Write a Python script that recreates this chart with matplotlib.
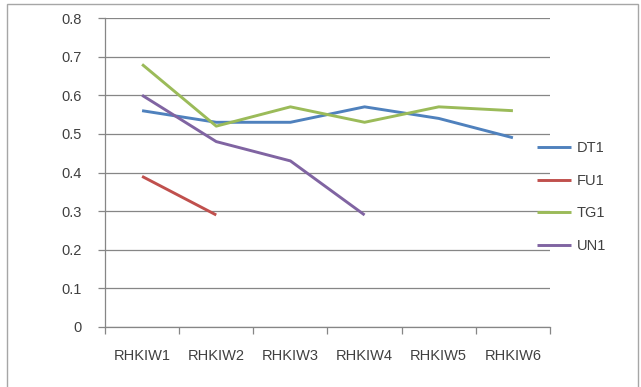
import matplotlib
matplotlib.use("Agg")
import matplotlib.pyplot as plt
from matplotlib.patches import Rectangle
import numpy as np

categories = ["RHKIW1", "RHKIW2", "RHKIW3", "RHKIW4", "RHKIW5", "RHKIW6"]
dt1 = [0.56, 0.53, 0.53, 0.57, 0.54, 0.49]
fu1 = [0.39, 0.29]
tg1 = [0.68, 0.52, 0.57, 0.53, 0.57, 0.56]
un1 = [0.60, 0.48, 0.43, 0.29]
y_ticks = [0, 0.1, 0.2, 0.3, 0.4, 0.5, 0.6, 0.7, 0.8]

series = [
    ("DT1", dt1, "#4F81BD"),
    ("FU1", fu1, "#C0504D"),
    ("TG1", tg1, "#9BBB59"),
    ("UN1", un1, "#8064A2"),
]

plt.rcParams["font.family"] = ["Liberation Sans", "DejaVu Sans"]
FS = 10.5
TXT = "#404040"

W, H = 641, 387
fig = plt.figure(figsize=(W / 100, H / 100), dpi=100)
fig.patch.set_facecolor("white")

# outer chart frame
fig.patches.append(Rectangle((7 / W, -0.02), 631 / W, 1.02 - 4 / H,
                             transform=fig.transFigure, fill=False,
                             edgecolor="#A6A6A6", linewidth=1.0))

ax = fig.add_axes([105 / W, (H - 327) / H, 445 / W, 309 / H])
x = np.arange(len(categories))

handles = []
for name, vals, color in series:
    h, = ax.plot(x[:len(vals)], vals, color=color, linewidth=2.1,
                 solid_capstyle="butt", label=name)
    handles.append(h)

ax.set_xlim(-0.5, len(categories) - 0.5)
ax.set_ylim(0, 0.8)
ax.set_yticks(y_ticks)
ax.set_yticklabels([f"{v:g}" for v in y_ticks])
ax.yaxis.grid(True, color="#868686", linewidth=0.9)
ax.set_axisbelow(True)

ax.set_xticks(x)
ax.set_xticklabels(categories)
ax.set_xticks(np.arange(-0.5, len(categories)), minor=True)
ax.tick_params(axis="x", which="major", length=0, pad=16,
               labelsize=FS, labelcolor=TXT)
ax.tick_params(axis="x", which="minor", length=5, color="#868686",
               direction="out", width=0.9)
ax.tick_params(axis="y", length=5, color="#868686", width=0.9,
               pad=12, labelsize=FS, labelcolor=TXT)

for side in ["top", "right"]:
    ax.spines[side].set_visible(False)
for side in ["left", "bottom"]:
    ax.spines[side].set_color("#868686")
    ax.spines[side].set_linewidth(0.9)

fig.legend(handles=handles, loc="upper left",
           bbox_to_anchor=(537 / W, 1 - 141 / H),
           frameon=False, fontsize=FS, handlelength=2.35,
           handletextpad=0.35, labelspacing=1.28,
           borderpad=0, borderaxespad=0, labelcolor=TXT)

fig.savefig("out.png", dpi=100, facecolor="white")
